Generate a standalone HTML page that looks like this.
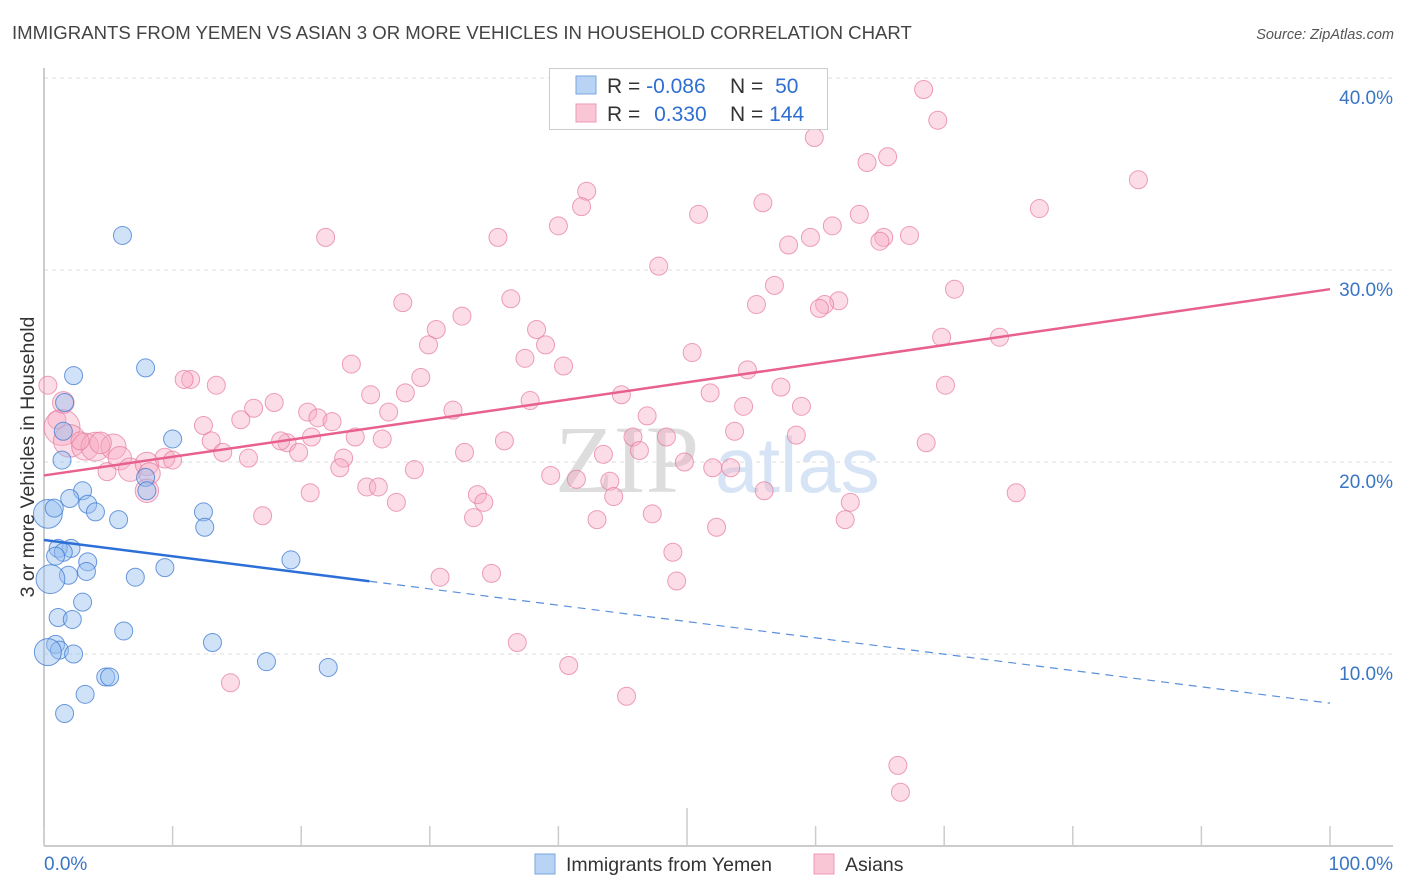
<!DOCTYPE html>
<html><head><meta charset="utf-8"><style>
body{margin:0;background:#fff;font-family:"Liberation Sans",sans-serif;}
svg{display:block}
</style></head><body>
<svg id="chart" width="1406" height="892" viewBox="0 0 1406 892">
<text x="12" y="39" font-size="18.6" fill="#444">IMMIGRANTS FROM YEMEN VS ASIAN 3 OR MORE VEHICLES IN HOUSEHOLD CORRELATION CHART</text>
<text x="1394" y="39" font-size="14.5" fill="#555" font-style="italic" text-anchor="end">Source: ZipAtlas.com</text>
<text transform="translate(34,457) rotate(-90)" font-size="19.5" fill="#333" text-anchor="middle">3 or more Vehicles in Household</text>
<g id="grid"></g>
<text x="555" y="492" font-size="96" fill="#ddd" font-family="Liberation Serif">ZIP</text>
<text x="715" y="492" font-size="78" fill="#d6e4f5">atlas</text>
<g id="marks"></g>
<g id="lines"></g>
<g>
<rect x="549.5" y="68.5" width="278" height="61" fill="#fff" stroke="#ccc"/>
<rect x="576" y="76" width="20" height="18" fill="#b8d3f3" stroke="#7aa7e0"/>
<rect x="576" y="104" width="20" height="18" fill="#f9c6d5" stroke="#ee9ab3"/>
<text x="607" y="93" font-size="21" fill="#333">R = <tspan fill="#2f6fd1">-0.086</tspan></text>
<text x="730" y="93" font-size="21" fill="#333">N = <tspan fill="#2f6fd1" dx="6">50</tspan></text>
<text x="607" y="121" font-size="21" fill="#333">R = <tspan fill="#2f6fd1" dx="8">0.330</tspan></text>
<text x="730" y="121" font-size="21" fill="#333">N = <tspan fill="#2f6fd1">144</tspan></text>
</g>
<g>
<rect x="535" y="854" width="20" height="20" fill="#b8d3f3" stroke="#7aa7e0"/>
<text x="566" y="871" font-size="19.5" fill="#333">Immigrants from Yemen</text>
<rect x="814" y="854" width="20" height="20" fill="#f9c6d5" stroke="#ee9ab3"/>
<text x="845" y="871" font-size="19.5" fill="#333">Asians</text>
</g>
</svg>
<script>
const yTicks=[10,20,30,40];
const yTickLabels=["10.0%","20.0%","30.0%","40.0%"];
const xTickVals=[0,10,20,30,40,50,60,70,80,90,100];
const xEndLabels=["0.0%","100.0%"];
const blueX=[6.1,7.9,2.3,1.6,1.5,10.0,1.4,7.9,8.0,3.0,2.0,3.4,4.0,0.3,0.8,5.8,12.4,12.5,2.1,1.1,1.5,0.9,3.4,3.3,7.1,9.4,19.2,1.9,0.5,3.0,1.1,2.2,6.2,13.1,0.9,1.2,2.3,0.3,17.3,22.1,4.8,5.1,3.2,1.6];
const blueY=[31.8,24.9,24.5,23.1,21.6,21.2,20.1,19.2,18.5,18.5,18.1,17.8,17.4,17.3,17.6,17.0,17.4,16.6,15.5,15.5,15.3,15.1,14.8,14.3,14.0,14.5,14.9,14.1,13.9,12.7,11.9,11.8,11.2,10.6,10.5,10.2,10.0,10.1,9.6,9.3,8.8,8.8,7.9,6.9];
const blueW=[1,1,1,1,1,1,1,1,1,1,1,1,1,1.6,1,1,1,1,1,1,1,1,1,1,1,1,1,1,1.6,1,1,1,1,1,1,1,1,1.5,1,1,1,1,1,1];
const pinkX=[68.4,69.5,59.9,65.6,64.0,85.1,42.2,41.8,77.4,50.9,55.9,40.0,63.4,61.3,67.3,65.3,65.0,59.6,57.9,35.3,21.9,47.8,56.8,70.8,36.3,27.9,61.8,60.7,60.3,55.4,32.5,30.5,38.3,29.9,69.8,74.3,39.0,50.4,37.4,23.9,40.4,54.7,29.3,11.4,10.9,13.4,28.1,25.4,44.9,57.3,70.1,51.8,37.8,17.9,20.5,26.8,54.4,58.9,16.3,31.8,46.9,21.3,22.4,15.3,12.4,53.7,45.8,13.0,24.2,26.3,20.8,58.5,48.4,35.8,18.9,68.6,46.3,18.4,19.8,13.9,15.9,23.3,32.7,43.5,49.8,53.4,52.0,28.8,23.0,39.4,41.4,44.0,20.7,56.0,25.1,26.0,33.7,34.2,44.3,62.7,27.4,75.6,17.0,33.4,47.3,62.3,43.0,52.3,48.9,49.2,30.8,34.8,36.8,40.8,45.3,14.5,66.4,66.6,0.3,1.0,1.4,2.0,3.2,4.0,5.4,5.9,6.7,8.0,8.2,9.4,10.0,4.9,2.8,4.4,8.0,1.5];
const pinkY=[39.4,37.8,36.9,35.9,35.6,34.7,34.1,33.3,33.2,32.9,33.5,32.3,32.9,32.3,31.8,31.7,31.5,31.7,31.3,31.7,31.7,30.2,29.2,29.0,28.5,28.3,28.4,28.2,28.0,28.2,27.6,26.9,26.9,26.1,26.5,26.5,26.1,25.7,25.4,25.1,25.0,24.8,24.4,24.3,24.3,24.0,23.6,23.5,23.5,23.9,24.0,23.6,23.2,23.1,22.6,22.6,22.9,22.9,22.8,22.7,22.4,22.3,22.1,22.2,21.9,21.6,21.3,21.1,21.3,21.2,21.3,21.4,21.3,21.1,21.0,21.0,20.6,21.1,20.5,20.5,20.2,20.2,20.5,20.4,20.0,19.7,19.7,19.6,19.7,19.3,19.1,19.0,18.4,18.5,18.7,18.7,18.3,17.9,18.2,17.9,17.9,18.4,17.2,17.1,17.3,17.0,17.0,16.6,15.3,13.8,14.0,14.2,10.6,9.4,7.8,8.5,4.2,2.8,24.0,22.2,21.8,21.1,20.8,20.8,20.8,20.2,19.6,19.9,19.4,20.2,20.1,19.5,21.1,21.0,18.5,23.1];
const pinkW=[1,1,1,1,1,1,1,1,1,1,1,1,1,1,1,1,1,1,1,1,1,1,1,1,1,1,1,1,1,1,1,1,1,1,1,1,1,1,1,1,1,1,1,1,1,1,1,1,1,1,1,1,1,1,1,1,1,1,1,1,1,1,1,1,1,1,1,1,1,1,1,1,1,1,1,1,1,1,1,1,1,1,1,1,1,1,1,1,1,1,1,1,1,1,1,1,1,1,1,1,1,1,1,1,1,1,1,1,1,1,1,1,1,1,1,1,1,1,1,1,2.0,1.8,1.5,1.6,1.4,1.3,1.3,1.3,1.2,1.1,1,1,1,1.2,1.3,1.2,1,1];
const blueTrend=[15.94,-0.085];
const blueSolidEnd=25.3;
const pinkTrend=[19.3,0.097];

const NS="http://www.w3.org/2000/svg";
const X0=44,X1=1330,Y0=846,PX=19.2;
function xs(v){return X0+(X1-X0)*v/100;}
function ys(v){return Y0-v*PX;}
function mk(t,a,p){const e=document.createElementNS(NS,t);for(const k in a)e.setAttribute(k,a[k]);p.appendChild(e);return e;}
const grid=document.getElementById('grid');
yTicks.forEach((v,i)=>{
 const l=mk('line',{x1:44,x2:1393,y1:ys(v),y2:ys(v),stroke:'#ddd','stroke-dasharray':'4,4'},grid);
 
 
 const t=mk('text',{x:1393,y:ys(v)+26,'font-size':19,fill:'#3a75c4','text-anchor':'end'},grid);
 t.textContent=yTickLabels[i];
 
 
});
const ax=mk('line',{x1:44,x2:44,y1:68,y2:846,stroke:'#bbb','stroke-width':1.5},grid);


const bx=mk('line',{x1:44,x2:1393,y1:846,y2:846,stroke:'#bbb','stroke-width':1.5},grid);


xTickVals.forEach(v=>{
 const tk=mk('line',{x1:xs(v),x2:xs(v),y1:v===50?808:826,y2:846,stroke:'#ccc','stroke-width':1.5},grid);
 
 
});
const xl0=mk('text',{x:44,y:870,'font-size':19,fill:'#3a75c4'},grid);xl0.textContent=xEndLabels[0];


const xl1=mk('text',{x:1393,y:870,'font-size':19,fill:'#3a75c4','text-anchor':'end'},grid);xl1.textContent=xEndLabels[1];


const marks=document.getElementById('marks');
pinkX.forEach((x,i)=>{
 const c=mk('circle',{cx:xs(x),cy:ys(pinkY[i]),r:9*pinkW[i],fill:'rgba(247,170,195,0.4)',stroke:'rgba(230,120,155,0.7)','stroke-width':1},marks);
 
 
});
blueX.forEach((x,i)=>{
 const c=mk('circle',{cx:xs(x),cy:ys(blueY[i]),r:9*blueW[i],fill:'rgba(150,190,240,0.45)',stroke:'rgba(60,120,210,0.75)','stroke-width':1},marks);
 
 
});
const lines=document.getElementById('lines');
const pl=mk('line',{x1:xs(0),y1:ys(pinkTrend[0]),x2:xs(100),y2:ys(pinkTrend[0]+pinkTrend[1]*100),stroke:'#e8608d','stroke-width':2.5},lines);


const bl=mk('line',{x1:xs(0),y1:ys(blueTrend[0]),x2:xs(blueSolidEnd),y2:ys(blueTrend[0]+blueTrend[1]*blueSolidEnd),stroke:'#2c6fd6','stroke-width':2.5},lines);


const bd=mk('line',{x1:xs(blueSolidEnd),y1:ys(blueTrend[0]+blueTrend[1]*blueSolidEnd),x2:xs(100),y2:ys(blueTrend[0]+blueTrend[1]*100),stroke:'#5a8fdc','stroke-width':1.2,'stroke-dasharray':'8,6'},lines);


</script>
</body></html>
